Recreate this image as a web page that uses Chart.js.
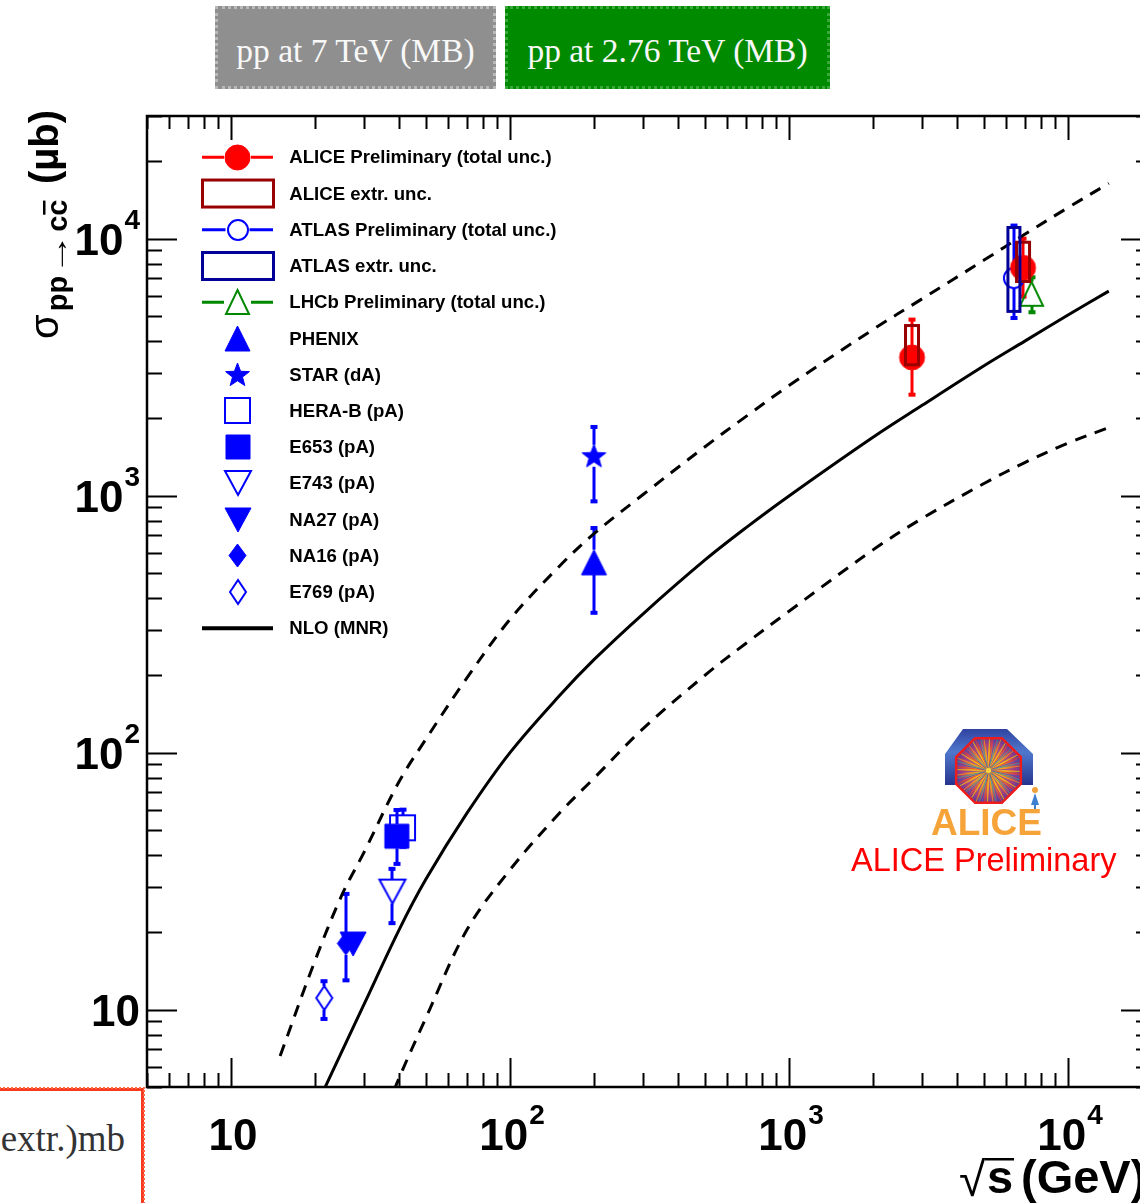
<!DOCTYPE html>
<html>
<head>
<meta charset="utf-8">
<title>Charm production cross section</title>
<script src="https://cdn.jsdelivr.net/npm/chart.js@4.4.1/dist/chart.umd.min.js"></script>
<style>
  html, body { margin: 0; padding: 0; background: #fff; }
  body { width: 1140px; height: 1203px; overflow: hidden; position: relative; }
  #plot { position: absolute; left: 0; top: 0; }
  .badge {
    position: absolute; top: 6px; height: 83px; line-height: 83px;
    color: #f8f8f8; text-align: center; box-sizing: border-box;
    font-family: "Liberation Serif", "DejaVu Serif", serif; font-size: 33.5px;
  }
  #b7 { left: 215px; width: 281px; background: #8f8f8f; border: 3px dotted #b9b9b9; }
  #b276 { left: 505px; width: 325px; background: #008a00; border: 3px dotted #3aa83a; }
  #note {
    position: absolute; left: -12px; top: 1088px; width: 156px; height: 130px;
    box-sizing: border-box; border-top: 3px solid #f8381a; border-right: 3px solid #f8381a;
    outline: 2px dotted #ff6a4a; outline-offset: -1px;
    font-family: "Liberation Serif", "DejaVu Serif", serif; font-size: 37px; color: #333;
    text-align: right; padding-right: 16px; padding-top: 26px;
  }
</style>
</head>
<body>
<div class="badge" id="b7">pp at 7 TeV (MB)</div>
<div class="badge" id="b276">pp at 2.76 TeV (MB)</div>
<div id="note">extr.)mb</div>
<canvas id="plot" width="1200" height="1203"></canvas>
<script>
// ---- NLO (MNR) prediction: central value and scale-uncertainty band (µb) ----
const nloEnergy  = [15, 20, 25, 30, 40, 50, 70, 100, 150, 200, 300, 500, 700, 1000, 2000, 3000, 5000, 7000, 10000, 14000];
const nloCentral = [2.06, 4.1, 6.9, 10.5, 20.4, 32.2, 58, 100, 166, 230, 347, 562, 749, 997, 1687, 2245, 3200, 3992, 5047, 6250];
const nloUpper   = [6.6, 15.5, 28, 41, 77, 113, 195, 330, 530, 711, 1010, 1550, 2030, 2680, 4430, 5830, 8250, 10400, 13200, 16400];
const nloLower   = [0.35, 0.8, 1.5, 2.5, 5.4, 9.3, 20.4, 35, 58, 79.5, 124, 200, 266, 355, 615, 815, 1115, 1345, 1600, 1840];

// ---- LHC measurements (µb) ----
const aliceEnergy   = [2760, 6900];
const aliceXsec     = [3450, 7700];
const aliceTotLow   = [2470, 5950];
const aliceTotHigh  = [4840, 10000];
const aliceExtrLow  = [3230, 6810];
const aliceExtrHigh = [4590, 9680];

const atlasEnergy   = [6400];
const atlasXsec     = [7020];
const atlasTotLow   = [4910];
const atlasTotHigh  = [11240];
const atlasExtrLow  = [5210];
const atlasExtrHigh = [11050];

const lhcbEnergy  = [7400];
const lhcbXsec    = [6100];
const lhcbTotLow  = [5170];
const lhcbTotHigh = [7070];

// ---- lower-energy measurements (µb) ----
const phenixEnergy = [200];  const phenixXsec = [550];  const phenixLow = [350];  const phenixHigh = [748];
const starEnergy   = [200];  const starXsec   = [1430]; const starLow   = [950];  const starHigh   = [1850];
const herabEnergy  = [41.2]; const herabXsec  = [51];   const herabLow  = [43];   const herabHigh  = [60];
const e653Energy   = [39.3]; const e653Xsec   = [47.3]; const e653Low   = [36.9]; const e653High   = [59.8];
const e743Energy   = [37.9]; const e743Xsec   = [28.8]; const e743Low   = [21.7]; const e743High   = [35.3];
const na27Energy   = [27.4]; const na27Xsec   = [18.0];
const na16Energy   = [25.8]; const na16Xsec   = [18.1]; const na16Low   = [13.0]; const na16High   = [28.2];
const e769Energy   = [21.6]; const e769Xsec   = [11.1]; const e769Low   = [9.2];  const e769High   = [12.9];

// ---- axis labelling ----
const xTickValues = [10, 100, 1000, 10000];
const xTickLabels = ['10', '10^2', '10^3', '10^4'];
const yTickValues = [10, 100, 1000, 10000];
const yTickLabels = ['10', '10^2', '10^3', '10^4'];
const legendLabels = [
  'ALICE Preliminary (total unc.)', 'ALICE extr. unc.', 'ATLAS Preliminary (total unc.)',
  'ATLAS extr. unc.', 'LHCb Preliminary (total unc.)', 'PHENIX', 'STAR (dA)', 'HERA-B (pA)',
  'E653 (pA)', 'E743 (pA)', 'NA27 (pA)', 'NA16 (pA)', 'E769 (pA)', 'NLO (MNR)'
];

const RED = '#ff0000', DARKRED = '#990000', BLUE = '#0000ff', NAVY = '#000099', GREEN = '#008800';
const SANS = '"Liberation Sans", Arial, "DejaVu Sans", sans-serif';

// Marker glyphs rendered once into small canvases, used as point styles.
function marker(kind, w, h, color, filled, lw) {
  const pad = Math.ceil(lw) + 1;
  const c = document.createElement('canvas');
  c.width = Math.round(w + 2 * pad); c.height = Math.round(h + 2 * pad);
  const g = c.getContext('2d');
  g.translate(c.width / 2, c.height / 2);
  const a = w / 2, b = h / 2;
  g.beginPath();
  if (kind === 'circle') g.arc(0, 0, a, 0, Math.PI * 2);
  else if (kind === 'square') g.rect(-a, -b, w, h);
  else if (kind === 'triUp') { g.moveTo(0, -b); g.lineTo(a, b); g.lineTo(-a, b); g.closePath(); }
  else if (kind === 'triDown') { g.moveTo(0, b); g.lineTo(a, -b); g.lineTo(-a, -b); g.closePath(); }
  else if (kind === 'diamond') { g.moveTo(0, -b); g.lineTo(a, 0); g.lineTo(0, b); g.lineTo(-a, 0); g.closePath(); }
  else if (kind === 'star') {
    for (let k = 0; k < 10; k++) {
      const r = k % 2 ? a * 0.42 : a;
      const t = -Math.PI / 2 + k * Math.PI / 5;
      g.lineTo(r * Math.cos(t), r * Math.sin(t) + a * 0.08);
    }
    g.closePath();
  }
  if (filled) { g.fillStyle = color; g.fill(); }
  g.strokeStyle = color; g.lineWidth = lw; g.lineJoin = 'miter'; g.stroke();
  return c;
}

const mk = {
  alice:  marker('circle', 25, 25, RED, true, 1),
  atlas:  marker('circle', 20, 20, BLUE, false, 2),
  lhcb:   marker('triUp', 23, 24, GREEN, false, 2),
  phenix: marker('triUp', 25, 25, BLUE, true, 1),
  star:   marker('star', 25, 25, BLUE, true, 1),
  herab:  marker('square', 25, 25, BLUE, false, 2),
  e653:   marker('square', 24, 24, BLUE, true, 1),
  e743:   marker('triDown', 26, 24, BLUE, false, 2),
  na27:   marker('triDown', 26, 24, BLUE, true, 1),
  na16:   marker('diamond', 17, 23, BLUE, true, 1),
  e769:   marker('diamond', 16, 24, BLUE, false, 2)
};

const pts = (xs, ys) => xs.map((x, i) => ({ x, y: ys[i] }));

function measurement(label, xs, ys, lo, hi, style, color, half, extra) {
  return Object.assign({
    label, type: 'scatter', data: pts(xs, ys), showLine: false,
    pointStyle: style, pointRadius: 6, pointHoverRadius: 6,
    borderColor: color, backgroundColor: color,
    errLow: lo, errHigh: hi, errColor: color, markerHalf: half
  }, extra || {});
}

function curve(label, ys, dashed) {
  return {
    label, type: 'line', data: pts(nloEnergy, ys), borderColor: '#000', borderWidth: 3,
    borderDash: dashed ? [12, 9] : [], pointRadius: 0, fill: false, tension: 0.35
  };
}

const datasets = [
  measurement('ALICE', aliceEnergy, aliceXsec, aliceTotLow, aliceTotHigh, mk.alice, RED, 12,
    { extrLow: aliceExtrLow, extrHigh: aliceExtrHigh, extrColor: DARKRED, extrHalfWidth: 6.5 }),
  measurement('ATLAS', atlasEnergy, atlasXsec, atlasTotLow, atlasTotHigh, mk.atlas, BLUE, 10,
    { extrLow: atlasExtrLow, extrHigh: atlasExtrHigh, extrColor: NAVY, extrHalfWidth: 6 }),
  measurement('LHCb', lhcbEnergy, lhcbXsec, lhcbTotLow, lhcbTotHigh, mk.lhcb, GREEN, 12),
  measurement('PHENIX', phenixEnergy, phenixXsec, phenixLow, phenixHigh, mk.phenix, BLUE, 12.5),
  measurement('STAR (dA)', starEnergy, starXsec, starLow, starHigh, mk.star, BLUE, 11),
  measurement('E653 (pA)', e653Energy, e653Xsec, e653Low, e653High, mk.e653, BLUE, 12),
  measurement('HERA-B (pA)', herabEnergy, herabXsec, herabLow, herabHigh, mk.herab, BLUE, 12.5),
  measurement('E743 (pA)', e743Energy, e743Xsec, e743Low, e743High, mk.e743, BLUE, 12),
  measurement('NA27 (pA)', na27Energy, na27Xsec, null, null, mk.na27, BLUE, 12),
  measurement('NA16 (pA)', na16Energy, na16Xsec, na16Low, na16High, mk.na16, BLUE, 11.5),
  measurement('E769 (pA)', e769Energy, e769Xsec, e769Low, e769High, mk.e769, BLUE, 12),
  curve('NLO (MNR)', nloCentral, false),
  curve('NLO upper', nloUpper, true),
  curve('NLO lower', nloLower, true)
];

// Vertical total-uncertainty bars with small end caps, kept outside the marker.
const errorBars = {
  id: 'errorBars',
  beforeDatasetsDraw(chart) {
    const { ctx, scales: { x, y } } = chart;
    ctx.save();
    chart.data.datasets.forEach(ds => {
      if (!ds.errLow) return;
      ctx.strokeStyle = ds.errColor; ctx.fillStyle = ds.errColor; ctx.lineWidth = 3;
      ds.data.forEach((p, i) => {
        const px = Math.round(x.getPixelForValue(p.x));
        const py = y.getPixelForValue(p.y);
        const top = y.getPixelForValue(ds.errHigh[i]);
        const bot = y.getPixelForValue(ds.errLow[i]);
        const h = ds.markerHalf;
        ctx.beginPath();
        if (top < py - h) { ctx.moveTo(px, top); ctx.lineTo(px, py - h); }
        if (bot > py + h) { ctx.moveTo(px, py + h); ctx.lineTo(px, bot); }
        ctx.stroke();
        ctx.fillRect(px - 3.5, top - 2, 7, 4);
        ctx.fillRect(px - 3.5, bot - 2, 7, 4);
      });
    });
    ctx.restore();
  }
};

// Open boxes for the extrapolation uncertainty, drawn over the markers.
const extrBoxes = {
  id: 'extrBoxes',
  afterDatasetsDraw(chart) {
    const { ctx, scales: { x, y } } = chart;
    ctx.save();
    ctx.lineWidth = 3;
    chart.data.datasets.forEach(ds => {
      if (!ds.extrLow) return;
      ctx.strokeStyle = ds.extrColor;
      ds.data.forEach((p, i) => {
        const px = x.getPixelForValue(p.x);
        const t = y.getPixelForValue(ds.extrHigh[i]);
        const b = y.getPixelForValue(ds.extrLow[i]);
        ctx.strokeRect(px - ds.extrHalfWidth, t, 2 * ds.extrHalfWidth, b - t);
      });
    });
    ctx.restore();
  }
};

function logTicks(min, max) {
  const out = [];
  for (let e = Math.floor(Math.log10(min)); e <= Math.ceil(Math.log10(max)); e++) {
    for (let m = 1; m <= 9; m++) {
      const v = m * Math.pow(10, e);
      if (v >= min * 0.9999 && v <= max * 1.0001) out.push({ v, major: m === 1 });
    }
  }
  return out;
}

// Frame with inward-pointing ticks on all four sides.
const frame = {
  id: 'frame',
  afterDatasetsDraw(chart) {
    const { ctx, chartArea: a, scales: { x, y } } = chart;
    ctx.save();
    ctx.strokeStyle = '#000';
    ctx.lineWidth = 2.5;
    ctx.strokeRect(a.left, a.top, a.right - a.left, a.bottom - a.top);
    ctx.lineWidth = 2;
    ctx.beginPath();
    logTicks(x.min, x.max).forEach(t => {
      const px = Math.round(x.getPixelForValue(t.v)) + 0.5;
      ctx.moveTo(px, a.bottom); ctx.lineTo(px, a.bottom - (t.major ? 29 : 14));
      ctx.moveTo(px, a.top); ctx.lineTo(px, a.top + (t.major ? 24 : 13));
    });
    logTicks(y.min, y.max).forEach(t => {
      const py = Math.round(y.getPixelForValue(t.v)) + 0.5;
      ctx.moveTo(a.left, py); ctx.lineTo(a.left + (t.major ? 30 : 15), py);
      ctx.moveTo(a.right, py); ctx.lineTo(a.right - (t.major ? 31 : 16), py);
    });
    ctx.stroke();
    ctx.restore();
  }
};

function splitLabel(s) {
  const [base, exp] = s.split('^');
  return { base, exp: exp || '' };
}

function drawPowerLabel(ctx, s, x, baseline, align) {
  const { base, exp } = splitLabel(s);
  ctx.font = 'bold 44px ' + SANS;
  const wb = ctx.measureText(base).width;
  ctx.font = 'bold 28px ' + SANS;
  const we = exp ? ctx.measureText(exp).width + 1 : 0;
  const total = wb + we;
  const x0 = align === 'center' ? x - total / 2 : x - total;
  ctx.textAlign = 'left';
  ctx.textBaseline = 'alphabetic';
  ctx.font = 'bold 44px ' + SANS;
  ctx.fillText(base, x0, baseline);
  if (exp) {
    ctx.font = 'bold 28px ' + SANS;
    ctx.fillText(exp, x0 + wb + 1, baseline - 26);
  }
}

// Tick labels, axis titles and the legend box contents.
const texts = {
  id: 'texts',
  afterDraw(chart) {
    const { ctx, chartArea: a, scales: { x, y } } = chart;
    ctx.save();
    ctx.fillStyle = '#000';
    xTickValues.forEach((v, i) => drawPowerLabel(ctx, xTickLabels[i], x.getPixelForValue(v) + 2, 1150, 'center'));
    yTickValues.forEach((v, i) => drawPowerLabel(ctx, yTickLabels[i], 140, y.getPixelForValue(v) + 16, 'right'));

    // x title: sqrt(s) (GeV)
    ctx.textBaseline = 'alphabetic';
    ctx.font = '48px ' + SANS;
    ctx.fillText('√', 959, 1196);
    ctx.font = 'bold 47px ' + SANS;
    ctx.fillText('s', 987, 1193);
    ctx.fillRect(985, 1158, 29, 2.5);
    ctx.fillText('(GeV)', 1021, 1193);

    // y title: sigma_{pp->c cbar} (µb), rotated
    ctx.save();
    ctx.translate(58, 339);
    ctx.rotate(-Math.PI / 2);
    let cx = 0;
    ctx.font = '40px ' + SANS;
    ctx.fillText('σ', cx, 0);
    cx += ctx.measureText('σ').width + 3;
    ctx.font = 'bold 29px ' + SANS;
    ctx.fillText('pp', cx, 9);
    cx += ctx.measureText('pp').width + 1;
    ctx.save();
    ctx.translate(cx, 9);
    ctx.scale(1.45, 1);
    ctx.fillText('→', 0, 0);
    const wa = ctx.measureText('→').width * 1.45;
    ctx.restore();
    cx += wa + 1;
    ctx.fillText('c', cx, 9);
    cx += ctx.measureText('c').width;
    ctx.fillText('c', cx, 9);
    ctx.fillRect(cx + 1, 9 - 24, ctx.measureText('c').width - 2, 2.5);
    cx += ctx.measureText('c').width + 6;
    ctx.font = 'bold 40px ' + SANS;
    const wmu = ctx.measureText('(µb)').width;
    ctx.fillText('(µb)', Math.max(cx, 229 - wmu), 0);
    ctx.restore();

    // legend
    const symbols = [
      { line: RED, m: mk.alice }, { box: DARKRED }, { line: BLUE, m: mk.atlas }, { box: NAVY },
      { line: GREEN, m: mk.lhcb }, { m: mk.phenix }, { m: mk.star }, { m: mk.herab },
      { m: mk.e653 }, { m: mk.e743 }, { m: mk.na27 }, { m: mk.na16 }, { m: mk.e769 }, { line: '#000', w: 4 }
    ];
    const sx0 = a.left + 55, sx1 = a.left + 126, scx = (sx0 + sx1) / 2;
    legendLabels.forEach((label, i) => {
      const cy = a.top + 41.3 + i * 36.23;
      const s = symbols[i];
      if (s.line) {
        ctx.strokeStyle = s.line; ctx.lineWidth = s.w || 3;
        ctx.beginPath();
        if (s.m) {
          const hw = s.m.width / 2 - 1;
          ctx.moveTo(sx0, cy); ctx.lineTo(scx - hw, cy);
          ctx.moveTo(scx + hw, cy); ctx.lineTo(sx1, cy);
        } else { ctx.moveTo(sx0, cy); ctx.lineTo(sx1, cy); }
        ctx.stroke();
      }
      if (s.box) {
        ctx.strokeStyle = s.box; ctx.lineWidth = 3;
        ctx.strokeRect(sx0 + 0.5, cy - 13.5, sx1 - sx0, 27);
      }
      if (s.m) ctx.drawImage(s.m, Math.round(scx - s.m.width / 2), Math.round(cy - s.m.height / 2));
      ctx.fillStyle = '#000';
      ctx.font = 'bold 18.6px ' + SANS;
      ctx.textBaseline = 'middle';
      ctx.fillText(label, a.left + 142.3, cy + 1);
    });

    drawLogo(ctx, 940, 725);
    ctx.fillStyle = '#f6a43a';
    ctx.font = 'bold 37px ' + SANS;
    ctx.textBaseline = 'alphabetic';
    ctx.fillText('ALICE', 931, 835);
    ctx.fillStyle = RED;
    ctx.font = '32.5px ' + SANS;
    ctx.fillText('ALICE Preliminary', 851, 871);
    ctx.restore();
  }
};

// Collaboration emblem: magnet yoke around an octagonal event display.
function drawLogo(ctx, ox, oy) {
  ctx.save();
  ctx.translate(ox, oy);
  const g1 = ctx.createLinearGradient(0, 0, 0, 60);
  g1.addColorStop(0, '#2b3a9a'); g1.addColorStop(0.45, '#4f78cc'); g1.addColorStop(1, '#26348e');
  ctx.fillStyle = g1;
  ctx.beginPath();
  ctx.moveTo(23, 4); ctx.lineTo(67, 4); ctx.lineTo(93, 29); ctx.lineTo(93, 60);
  ctx.lineTo(5, 60); ctx.lineTo(5, 29); ctx.closePath(); ctx.fill();
  const cx = 48.5, cy = 45.5, R = 35;
  const oct = () => {
    ctx.beginPath();
    for (let k = 0; k < 8; k++) {
      const t = Math.PI / 8 + k * Math.PI / 4;
      ctx.lineTo(cx + R * Math.cos(t), cy + R * Math.sin(t));
    }
    ctx.closePath();
  };
  ctx.save();
  oct();
  const g2 = ctx.createRadialGradient(cx, cy, 2, cx, cy, R);
  g2.addColorStop(0, '#ffd23a'); g2.addColorStop(0.35, '#f0a030'); g2.addColorStop(0.75, '#b04070'); g2.addColorStop(1, '#3a3fa0');
  ctx.fillStyle = g2; ctx.fill();
  ctx.clip();
  const rayColors = ['#ffd400', '#e8402a', '#3050d0', '#28a0a0', '#ff9a10', '#7a3ab0'];
  ctx.lineWidth = 1;
  for (let k = 0; k < 72; k++) {
    const t = k * Math.PI / 36 + 0.03;
    ctx.strokeStyle = rayColors[k % rayColors.length];
    ctx.globalAlpha = 0.75;
    ctx.beginPath();
    ctx.moveTo(cx + 3 * Math.cos(t), cy + 3 * Math.sin(t));
    ctx.lineTo(cx + R * Math.cos(t), cy + R * Math.sin(t));
    ctx.stroke();
  }
  ctx.restore();
  oct();
  ctx.strokeStyle = '#ee1c1c'; ctx.lineWidth = 2.5; ctx.stroke();
  ctx.fillStyle = '#f2a03a';
  ctx.beginPath(); ctx.arc(95, 65, 3, 0, Math.PI * 2); ctx.fill();
  ctx.fillStyle = '#3d7fd0';
  ctx.beginPath(); ctx.moveTo(95, 68); ctx.lineTo(99, 80); ctx.lineTo(91, 80); ctx.closePath(); ctx.fill();
  ctx.fillRect(94, 80, 2, 6);
  ctx.restore();
}

new Chart(document.getElementById('plot').getContext('2d'), {
  type: 'scatter',
  data: { datasets },
  options: {
    responsive: false,
    animation: false,
    events: [],
    layout: { padding: { left: 147, top: 116, right: 48, bottom: 116 } },
    scales: {
      x: { type: 'logarithmic', min: 5, max: 20000, display: false },
      y: { type: 'logarithmic', min: 5, max: 30000, display: false }
    },
    plugins: { legend: { display: false }, tooltip: { enabled: false } }
  },
  plugins: [errorBars, extrBoxes, frame, texts]
});
</script>
</body>
</html>
